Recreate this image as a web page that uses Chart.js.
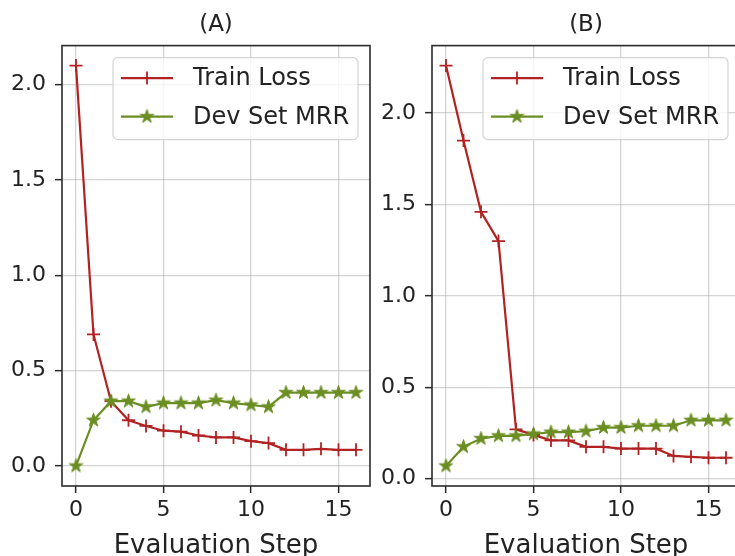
<!DOCTYPE html>
<html>
<head>
<meta charset="utf-8">
<script src="https://cdn.jsdelivr.net/npm/chart.js@4.4.1/dist/chart.umd.min.js"></script>
<style>
  html, body { margin:0; padding:0; background:#fff; overflow:hidden; width:735px; height:556px; }
  .panel { position:absolute; top:0; }
</style>
</head>
<body>
<div class="panel" style="left:0px"><canvas id="chartA" width="372" height="580"></canvas></div>
<div class="panel" style="left:370px"><canvas id="chartB" width="372" height="580"></canvas></div>
<script>
// data
const steps = [0, 1, 2, 3, 4, 5, 6, 7, 8, 9, 10, 11, 12, 13, 14, 15, 16];
const lossA = [2.10, 0.69, 0.34, 0.24, 0.21, 0.185, 0.18, 0.16, 0.15, 0.15, 0.13, 0.12, 0.085, 0.085, 0.09, 0.085, 0.085];
const mrrA  = [0.00, 0.24, 0.34, 0.34, 0.31, 0.33, 0.33, 0.33, 0.345, 0.33, 0.32, 0.31, 0.385, 0.385, 0.385, 0.385, 0.385];
const lossB = [2.26, 1.85, 1.46, 1.30, 0.27, 0.24, 0.21, 0.21, 0.175, 0.175, 0.165, 0.165, 0.165, 0.125, 0.12, 0.115, 0.115];
const mrrB  = [0.07, 0.175, 0.22, 0.235, 0.235, 0.245, 0.255, 0.255, 0.26, 0.28, 0.28, 0.29, 0.29, 0.29, 0.32, 0.32, 0.32];
const xTicks = [0, 5, 10, 15];
const yTicks = [0, 0.5, 1.0, 1.5, 2.0];
const seriesLabels = ['Train Loss', 'Dev Set MRR'];
const panelTitles = ['(A)', '(B)'];
const xTitle = 'Evaluation Step';

const RED = '#b22222';
const GREEN = '#6b8e23';
const TEXT = '#222';
const FONT = 'DejaVu Sans';

// filled 5 point star like matplotlib '*'
let makeStar = (color, r) => {
    const c = document.createElement('canvas');
    const size = Math.ceil(r * 2 + 4);
    c.width = size; c.height = size;
    const g = c.getContext('2d');
    g.beginPath();
    for (let k = 0; k < 10; k++) {
        const rad = k % 2 === 0 ? r : r * 0.382;
        const a = -Math.PI / 2 + k * Math.PI / 5;
        g.lineTo(size / 2 + rad * Math.cos(a), size / 2 + rad * Math.sin(a));
    }
    g.closePath();
    g.fillStyle = color; g.fill();
    g.strokeStyle = color; g.lineWidth = 1; g.stroke();
    return c;
};
const starImg = makeStar(GREEN, 7.2);

// matplotlib style 5% margins
let padRange = (vals) => {
    const lo = Math.min(...vals), hi = Math.max(...vals);
    const m = (hi - lo) * 0.05;
    return [lo - m, hi + m];
};

// box around the plot area
const spinePlugin = {
    id: 'spines',
    afterDatasetsDraw(chart) {
        const {ctx, chartArea: ca} = chart;
        ctx.save();
        ctx.strokeStyle = '#2a2a2a';
        ctx.lineWidth = 1.6;
        ctx.strokeRect(ca.left, ca.top, ca.right - ca.left, ca.bottom - ca.top);
        ctx.restore();
    }
};

// legend inside the upper right corner
const boxLegend = {
    id: 'boxLegend',
    afterDraw(chart) {
        const {ctx, chartArea: ca} = chart;
        const w = 245, h = 82;
        const x0 = ca.right - 12 - w, y0 = ca.top + 12;
        ctx.save();
        ctx.beginPath();
        ctx.roundRect(x0, y0, w, h, 5);
        ctx.fillStyle = 'rgba(255,255,255,0.8)';
        ctx.fill();
        ctx.strokeStyle = '#d4d4d4';
        ctx.lineWidth = 1.2;
        ctx.stroke();
        chart.data.datasets.forEach((ds, i) => {
            const y = y0 + 20.5 + i * 38.5;
            ctx.strokeStyle = ds.borderColor;
            ctx.lineWidth = ds.borderWidth;
            ctx.beginPath();
            ctx.moveTo(x0 + 8, y);
            ctx.lineTo(x0 + 60, y);
            ctx.stroke();
            const mx = x0 + 34;
            if (ds.pointStyle === 'cross') {
                const r = ds.pointRadius;
                ctx.lineWidth = ds.pointBorderWidth;
                ctx.beginPath();
                ctx.moveTo(mx - r, y); ctx.lineTo(mx + r, y);
                ctx.moveTo(mx, y - r); ctx.lineTo(mx, y + r);
                ctx.stroke();
            } else {
                const img = ds.pointStyle;
                ctx.drawImage(img, mx - img.width / 2, y - img.height / 2);
            }
            ctx.fillStyle = TEXT;
            ctx.font = '24px "' + FONT + '"';
            ctx.textBaseline = 'middle';
            ctx.fillText(ds.label, x0 + 80, y + 1);
        });
        ctx.restore();
    }
};

let makePanel = (id, title, loss, mrr) => {
    const [xmin, xmax] = padRange(steps);
    const [ymin, ymax] = padRange(loss.concat(mrr));
    const ctx = document.getElementById(id);
    return new Chart(ctx, {
        type: 'line',
        data: {
            datasets: [{
                label: seriesLabels[0],
                data: steps.map((s, i) => ({x: s, y: loss[i]})),
                borderColor: RED,
                borderWidth: 2.2,
                pointStyle: 'cross',
                pointRadius: 6.5,
                pointBorderColor: RED,
                pointBorderWidth: 1.8,
                tension: 0,
                order: 1
            }, {
                label: seriesLabels[1],
                data: steps.map((s, i) => ({x: s, y: mrr[i]})),
                borderColor: GREEN,
                borderWidth: 2.2,
                pointStyle: starImg,
                pointRadius: 7,
                tension: 0,
                order: 0
            }]
        },
        options: {
            responsive: false,
            animation: false,
            layout: { autoPadding: false, padding: { top: 0, right: 2, bottom: 0, left: 0 } },
            plugins: {
                legend: { display: false },
                tooltip: { enabled: false },
                title: {
                    display: true,
                    fullSize: false,
                    text: title,
                    color: TEXT,
                    font: { family: FONT, size: 23, weight: 'normal' },
                    padding: { top: 11, bottom: 7 }
                }
            },
            scales: {
                x: {
                    type: 'linear',
                    min: xmin,
                    max: xmax,
                    afterBuildTicks: (scale) => { scale.ticks = xTicks.map(v => ({value: v})); },
                    afterFit: (scale) => {
                        scale.height = 94;
                        scale.paddingLeft = 0;
                        scale.paddingRight = 0;
                    },
                    border: { display: false },
                    grid: {
                        color: 'rgba(176,176,176,0.55)',
                        lineWidth: 1.3,
                        tickLength: 7,
                        tickColor: '#2a2a2a',
                        tickWidth: 1.5
                    },
                    ticks: {
                        color: TEXT,
                        padding: 4,
                        font: { family: FONT, size: 22 },
                        callback: (v) => String(v)
                    },
                    title: {
                        display: true,
                        text: xTitle,
                        color: TEXT,
                        font: { family: FONT, size: 26 },
                        padding: { top: 0, bottom: 18 }
                    }
                },
                y: {
                    min: ymin,
                    max: ymax,
                    afterBuildTicks: (scale) => { scale.ticks = yTicks.map(v => ({value: v})); },
                    afterFit: (scale) => {
                        scale.width = 62;
                        scale.paddingTop = 0;
                        scale.paddingBottom = 0;
                    },
                    border: { display: false },
                    grid: {
                        color: 'rgba(176,176,176,0.55)',
                        lineWidth: 1.3,
                        tickLength: 7,
                        tickColor: '#2a2a2a',
                        tickWidth: 1.5
                    },
                    ticks: {
                        color: TEXT,
                        padding: 9,
                        font: { family: FONT, size: 22 },
                        callback: (v) => v.toFixed(1)
                    }
                }
            }
        },
        plugins: [spinePlugin, boxLegend]
    });
};

makePanel('chartA', panelTitles[0], lossA, mrrA);
makePanel('chartB', panelTitles[1], lossB, mrrB);
</script>
</body>
</html>
